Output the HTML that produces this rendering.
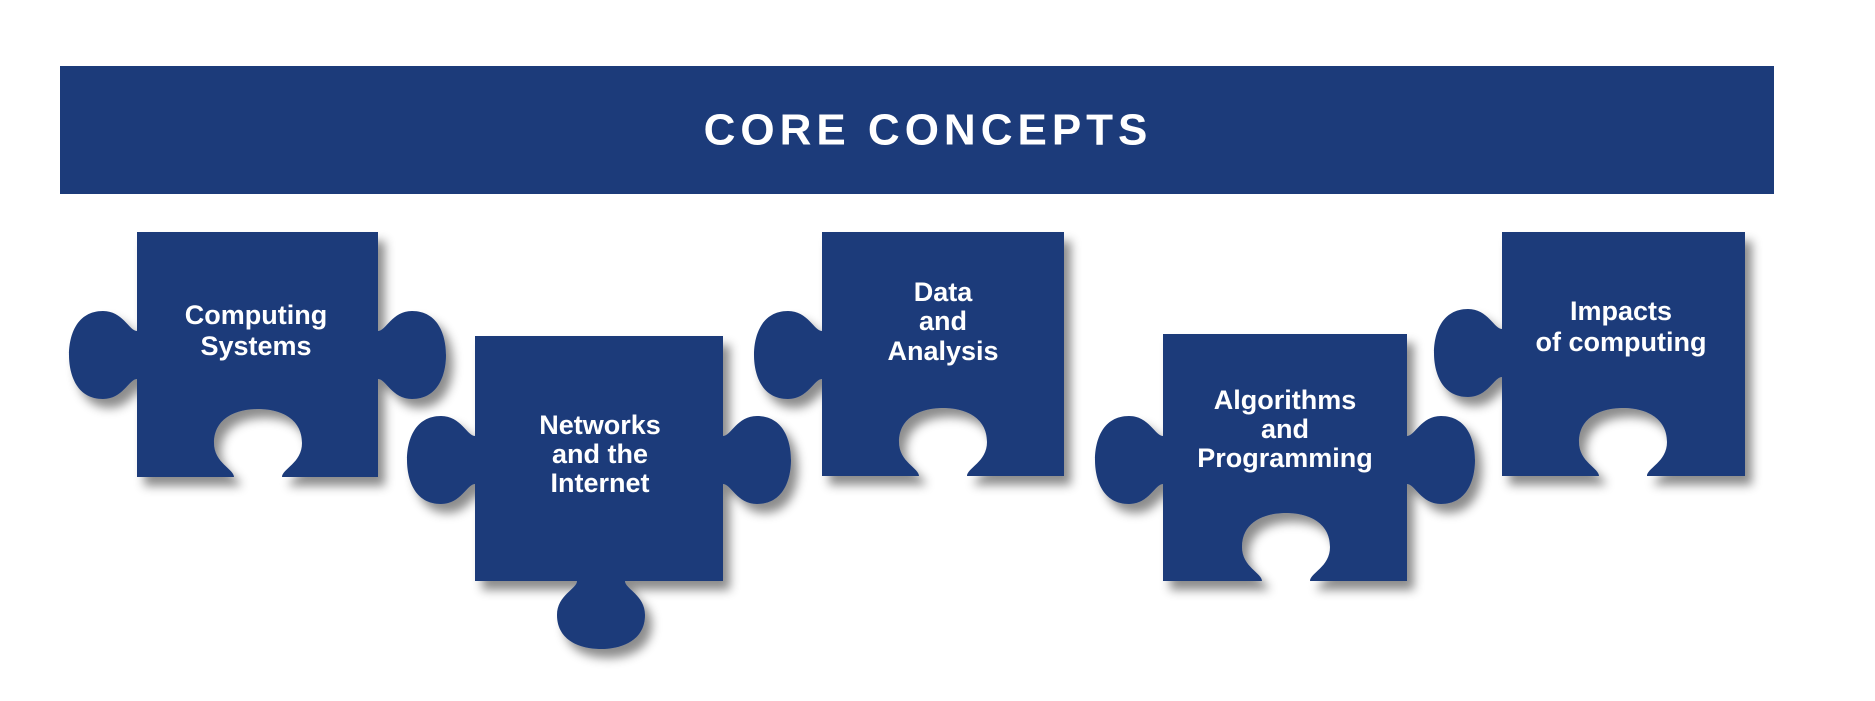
<!DOCTYPE html>
<html><head><meta charset="utf-8"><style>
html,body{margin:0;padding:0;background:#fff;width:1875px;height:701px;overflow:hidden}
svg{display:block}
text{font-family:"Liberation Sans",sans-serif;font-weight:bold;fill:#fff}
</style></head><body>
<svg width="1875" height="701" viewBox="0 0 1875 701" xmlns="http://www.w3.org/2000/svg">
<defs>
<filter id="sh" x="-20%" y="-20%" width="140%" height="140%">
<feDropShadow dx="7" dy="9" stdDeviation="5" flood-color="#000" flood-opacity="0.45"/>
</filter>
</defs>
<rect x="60" y="66" width="1714" height="128" fill="#1c3b7a"/>
<text x="928" y="130" font-size="44" letter-spacing="5" text-anchor="middle" dominant-baseline="central">CORE CONCEPTS</text>

<g fill="#1c3b7a" filter="url(#sh)">
<path d="M137,232 H378 V331 c8,0 14,-20 34,-20 c26,0 34,24 34,44 c0,20 -8,44 -34,44 c-20,0 -26,-20 -34,-20 V477 H282 c0,-8 20,-14 20,-34 c0,-26 -24,-34 -44,-34 c-20,0 -44,8 -44,34 c0,20 20,26 20,34 H137 V379 c-8,0 -14,20 -34,20 c-26,0 -34,-24 -34,-44 c0,-20 8,-44 34,-44 c20,0 26,20 34,20 Z"/>
<path d="M475,336 H723 V436 c8,0 14,-20 34,-20 c26,0 34,24 34,44 c0,20 -8,44 -34,44 c-20,0 -26,-20 -34,-20 V581 H625 c0,8 20,14 20,34 c0,26 -24,34 -44,34 c-20,0 -44,-8 -44,-34 c0,-20 20,-26 20,-34 H475 V484 c-8,0 -14,20 -34,20 c-26,0 -34,-24 -34,-44 c0,-20 8,-44 34,-44 c20,0 26,20 34,20 Z"/>
<path d="M822,232 H1064 V476 H967 c0,-8 20,-14 20,-34 c0,-26 -24,-34 -44,-34 c-20,0 -44,8 -44,34 c0,20 20,26 20,34 H822 V379 c-8,0 -14,20 -34,20 c-26,0 -34,-24 -34,-44 c0,-20 8,-44 34,-44 c20,0 26,20 34,20 Z"/>
<path d="M1163,334 H1407 V436 c8,0 14,-20 34,-20 c26,0 34,24 34,44 c0,20 -8,44 -34,44 c-20,0 -26,-20 -34,-20 V581 H1310 c0,-8 20,-14 20,-34 c0,-26 -24,-34 -44,-34 c-20,0 -44,8 -44,34 c0,20 20,26 20,34 H1163 V484 c-8,0 -14,20 -34,20 c-26,0 -34,-24 -34,-44 c0,-20 8,-44 34,-44 c20,0 26,20 34,20 Z"/>
<path d="M1502,232 H1745 V476 H1647 c0,-8 20,-14 20,-34 c0,-26 -24,-34 -44,-34 c-20,0 -44,8 -44,34 c0,20 20,26 20,34 H1502 V377 c-8,0 -14,20 -34,20 c-26,0 -34,-24 -34,-44 c0,-20 8,-44 34,-44 c20,0 26,20 34,20 Z"/>
</g>

<g font-size="27" text-anchor="middle" dominant-baseline="central">
<text x="256" y="315">Computing</text>
<text x="256" y="346">Systems</text>
<text x="600" y="425">Networks</text>
<text x="600" y="454">and the</text>
<text x="600" y="483">Internet</text>
<text x="943" y="292">Data</text>
<text x="943" y="321">and</text>
<text x="943" y="351">Analysis</text>
<text x="1285" y="400">Algorithms</text>
<text x="1285" y="429">and</text>
<text x="1285" y="458">Programming</text>
<text x="1621" y="311">Impacts</text>
<text x="1621" y="342">of computing</text>
</g>
</svg>
</body></html>
